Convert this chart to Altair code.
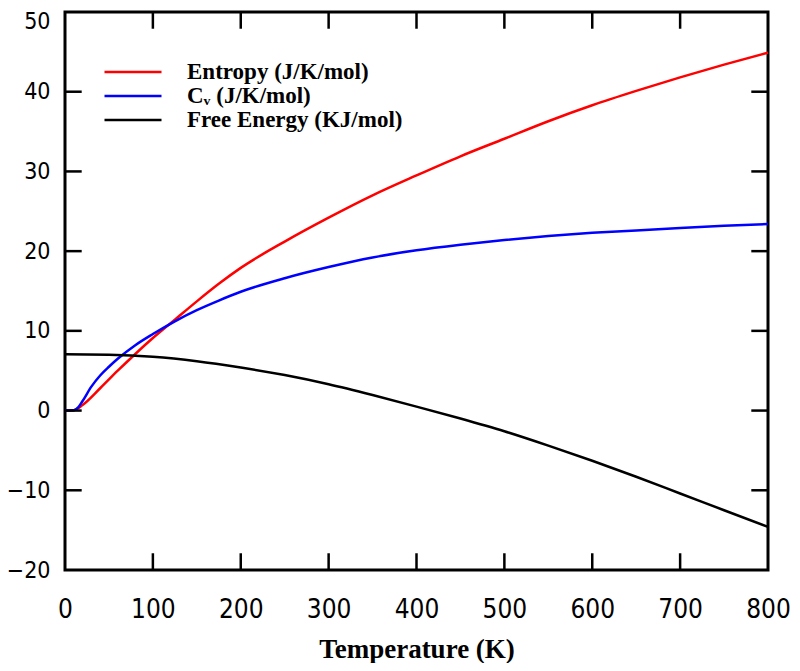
import altair as alt
import pandas as pd

# ---- data ----
ENT_T = [0, 10, 20, 40, 60, 80, 100, 125, 150, 175, 200, 250, 300, 350, 400, 450, 500, 550, 600, 650, 700, 750, 800]
ENT_V = [0.0, 0.05, 0.7, 2.8, 5.0, 7.1, 9.1, 11.4, 13.7, 15.9, 17.9, 21.2, 24.2, 27.0, 29.5, 31.9, 34.1, 36.3, 38.3, 40.1, 41.8, 43.4, 44.9]

CV_T = [0, 10, 15, 20, 30, 40, 50, 60, 80, 100, 125, 150, 175, 200, 250, 300, 350, 400, 450, 500, 550, 600, 650, 700, 750, 800]
CV_V = [0.0, 0.05, 0.4, 1.2, 3.0, 4.4, 5.5, 6.5, 8.2, 9.6, 11.2, 12.6, 13.8, 14.9, 16.6, 18.0, 19.2, 20.1, 20.8, 21.4, 21.9, 22.3, 22.6, 22.9, 23.2, 23.4]

FE_T = [0, 50, 100, 150, 200, 250, 300, 350, 400, 450, 500, 550, 600, 650, 700, 750, 800]
FE_V = [7.05, 7.0, 6.75, 6.2, 5.4, 4.45, 3.3, 1.95, 0.5, -1.0, -2.6, -4.4, -6.3, -8.3, -10.4, -12.5, -14.6]

SERIES = ["Entropy (J/K/mol)", "C\u1d65 (J/K/mol)", "Free Energy (KJ/mol)"]
COLORS = ["#ff0000", "#0000ff", "#000000"]

X_TICKS = [0, 100, 200, 300, 400, 500, 600, 700, 800]
Y_TICKS = [-20, -10, 0, 10, 20, 30, 40, 50]
X_INNER = [100, 200, 300, 400, 500, 600, 700]
Y_INNER = [-10, 0, 10, 20, 30, 40]

rows = []
for t, v in zip(ENT_T, ENT_V):
    rows.append({"T": t, "v": v, "s": SERIES[0]})
for t, v in zip(CV_T, CV_V):
    rows.append({"T": t, "v": v, "s": SERIES[1]})
for t, v in zip(FE_T, FE_V):
    rows.append({"T": t, "v": v, "s": SERIES[2]})
df = pd.DataFrame(rows)

xs = alt.Scale(domain=[0, 800], nice=False, zero=False)
ys = alt.Scale(domain=[-20, 50], nice=False, zero=False)

LABEL_FONT = "DejaVu Sans Condensed"

lines = alt.Chart(df).mark_line(strokeWidth=2.5, interpolate="monotone").encode(
    x=alt.X("T:Q", scale=xs,
            axis=alt.Axis(values=X_TICKS, title="Temperature (K)", labelFont=LABEL_FONT,
                          labelFontSize=26, labelPadding=26, labelColor="black",
                          titleFont="Liberation Serif", titleFontWeight="bold",
                          titleFontSize=27, titlePadding=14, titleColor="black",
                          domain=False, ticks=False, grid=False, labelFlush=False)),
    y=alt.Y("v:Q", scale=ys,
            axis=alt.Axis(values=Y_TICKS, title=None, labelFont=LABEL_FONT,
                          labelFontSize=23, labelPadding=15, labelColor="black",
                          labelOffset={"condition": {"test": "datum.value == 50", "value": 9}, "value": 0},
                          domain=False, ticks=False, grid=False, labelFlush=False)),
    color=alt.Color("s:N", scale=alt.Scale(domain=SERIES, range=COLORS),
                    legend=alt.Legend(orient="none", legendX=38, legendY=49, title=None,
                                      symbolType="stroke", symbolSize=3249,
                                      symbolStrokeWidth=2.5, clipHeight=22, rowPadding=1,
                                      labelFont="Liberation Serif", labelFontWeight="bold",
                                      labelFontSize=23, labelColor="black",
                                      labelOffset=24, padding=0, labelLimit=400)),
    order=alt.Order("T:Q"),
)

tx = pd.DataFrame({"x": X_INNER})
ty = pd.DataFrame({"y": Y_INNER})
TL_Y = 2.1
TL_X = 19

bottom = alt.Chart(tx).mark_rule(color="black", strokeWidth=2.5).encode(
    x=alt.X("x:Q", scale=xs), y=alt.datum(-20), y2=alt.datum(-20 + TL_Y))
top = alt.Chart(tx).mark_rule(color="black", strokeWidth=2.5).encode(
    x=alt.X("x:Q", scale=xs), y=alt.datum(50), y2=alt.datum(50 - TL_Y))
left = alt.Chart(ty).mark_rule(color="black", strokeWidth=2.5).encode(
    y=alt.Y("y:Q", scale=ys), x=alt.datum(0), x2=alt.datum(TL_X))
right = alt.Chart(ty).mark_rule(color="black", strokeWidth=2.5).encode(
    y=alt.Y("y:Q", scale=ys), x=alt.datum(800), x2=alt.datum(800 - TL_X))

chart = alt.layer(lines, bottom, top, left, right).properties(
    width=703, height=558,
    autosize=alt.AutoSizeParams(type="none"),
    padding={"left": 57, "top": 4, "right": 24, "bottom": 93},
    background="white",
).configure_view(stroke="black", strokeWidth=3)

chart.save("out.html", embed_options={"renderer": "svg", "actions": False})
